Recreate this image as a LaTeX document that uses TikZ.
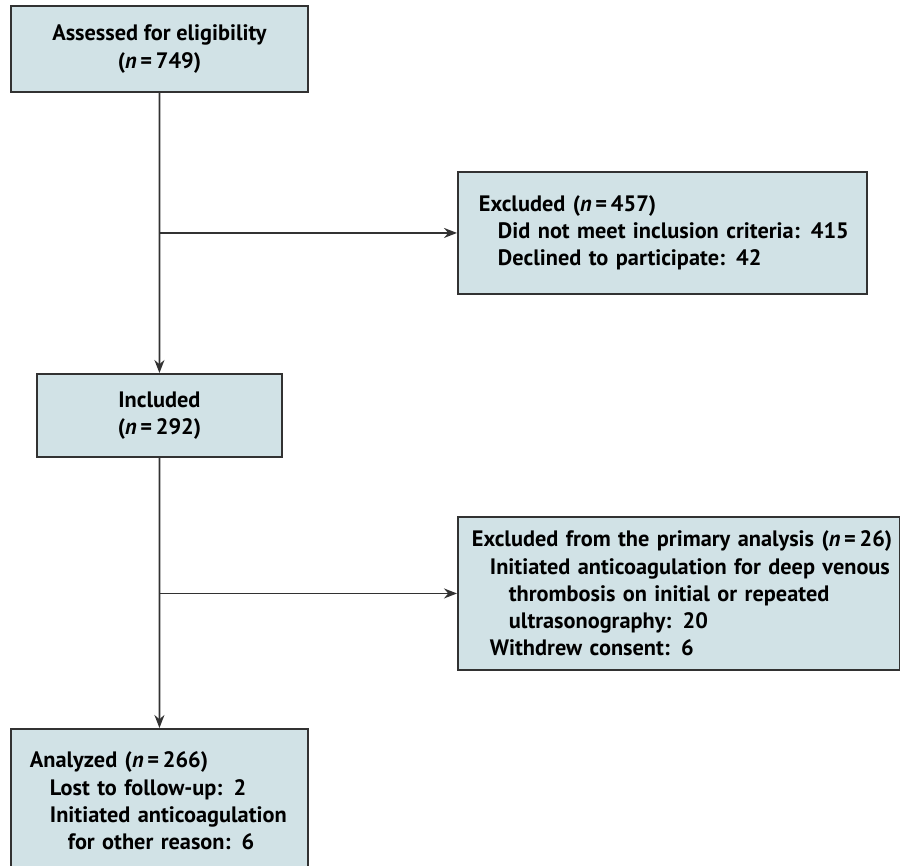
\documentclass[tikz,border=0pt]{standalone}
\usepackage{fontspec}
\setmainfont{PT Sans}
\usetikzlibrary{positioning, arrows.meta}

\definecolor{boxfill}{RGB}{209,226,230}
\definecolor{linegray}{RGB}{50,50,50}

\begin{document}
\begin{tikzpicture}[x=0.02cm, y=-0.02cm,
		flowbox/.style={draw=linegray, line width=1.1pt, fill=boxfill, rectangle, anchor=north west, inner sep=0pt,
			font=\fontsize{12.7}{15.5}\selectfont\bfseries},
		flow/.style={draw=linegray, line width=1pt, -{Stealth[length=0.26cm, width=0.2cm]}}]
		\useasboundingbox (0,0) rectangle (900,866);
		\node[flowbox, align=center, minimum width=5.94cm, minimum height=1.72cm] (assessed) at (10, 5) {Assessed for eligibility\\(\textit{n}\,=\,749)};
		\node[flowbox, align=left, text width=8.18cm, minimum height=2.44cm] (excluded) at (457, 171) {\hspace*{0.42cm}Excluded (\textit{n}\,=\,457)\\\hspace*{0.8cm}Did not meet inclusion criteria: 415\\\hspace*{0.8cm}Declined to participate: 42};
		\node[flowbox, align=left, text width=8.84cm, minimum height=3.06cm] (excl_primary) at (457, 516) {\hspace*{0.28cm}Excluded from the primary analysis (\textit{n}\,=\,26)\\\hspace*{0.64cm}Initiated anticoagulation for deep venous\\\hspace*{1.02cm}thrombosis on initial or repeated\\\hspace*{1.02cm}ultrasonography: 20\\\hspace*{0.64cm}Withdrew consent: 6};
		\node[flowbox, align=center, minimum width=4.9cm, minimum height=1.66cm] (included) at (36, 373) {Included\\(\textit{n}\,=\,292)};
		\node[flowbox, align=left, text width=5.94cm, minimum height=2.88cm] (analyzed) at (10, 728) {\hspace*{0.38cm}Analyzed (\textit{n}\,=\,266)\\\hspace*{0.78cm}Lost to follow-up: 2\\\hspace*{0.78cm}Initiated anticoagulation\\\hspace*{1.14cm}for other reason: 6};
		% branch points on the main line
		\coordinate (split1) at (assessed.south |- excluded.west);
		\coordinate (split2) at (included.south |- excl_primary.west);
		\draw[flow] (assessed) -- (included);
		\draw[flow] (split1) -- (excluded);
		\draw[flow] (included) -- (analyzed);
		\draw[flow] (split2) -- (excl_primary);
	\end{tikzpicture}
\end{document}
